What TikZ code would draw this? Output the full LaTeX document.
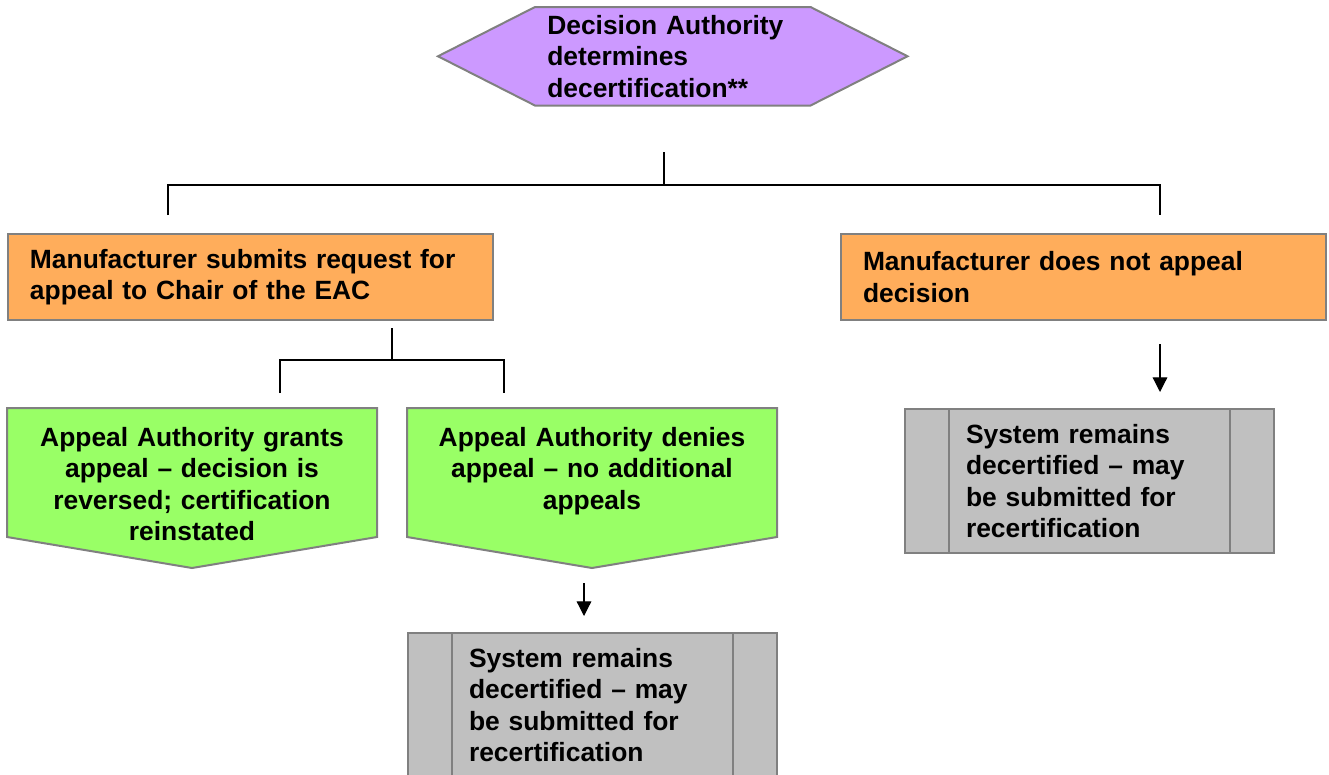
\documentclass[tikz,border=0pt]{standalone}
\usepackage{fontspec}
\setmainfont{Liberation Sans}
\usepackage{tikz}
\usetikzlibrary{arrows.meta,calc,backgrounds}

\tikzset{
  boxfont/.style={font=\fontsize{19.8}{23.6}\selectfont\bfseries},
  outline/.style={draw={rgb, 255:red, 128; green, 128; blue, 128 }, line width=1.5pt},
  orangebox/.style={boxfont, outline, fill={rgb, 255:red, 255; green, 173; blue, 91 }, anchor=north west, minimum width=363.75pt, minimum height=64.5pt, inner xsep=16.5pt, inner ysep=0pt, text width=330.75pt, align=left},
  graybox/.style={boxfont, outline, fill={rgb, 255:red, 192; green, 192; blue, 192 }, anchor=north west, minimum width=277pt, minimum height=108pt, inner xsep=45.75pt, inner ysep=0pt, text width=185.5pt, align=left},
  greentext/.style={boxfont, anchor=north, inner xsep=0pt, inner ysep=14.25pt, text width=262pt, align=center},
  greenfill/.style={outline, fill={rgb, 255:red, 153; green, 255; blue, 102 }},
  hextext/.style={boxfont, anchor=north west, minimum width=206.25pt, minimum height=73.5pt, inner xsep=9pt, inner ysep=0pt, text width=188.25pt, align=left},
  hexfill/.style={outline, fill={rgb, 255:red, 204; green, 153; blue, 255 }},
  treeline/.style={line width=1pt},
  flowarrow/.style={line width=0.9pt, -{Triangle[width=11pt,length=11pt]}}
}

\begin{document}
\begin{tikzpicture}[x=0.75pt,y=0.75pt,yscale=-1,xscale=1]
\path[use as bounding box] (0,0) rectangle (1329,775);

% Text Node
\node[hextext] (dec) at (535,7) {Decision Authority\\determines\\decertification**};
% Text Node
\node[orangebox] (mfrA) at (7,233) {Manufacturer submits request for\\appeal to Chair of the EAC};
% Text Node
\node[orangebox] (mfrB) at (840,233) {Manufacturer does not appeal\\decision};
% Text Node
\node[greentext] (grant) at (192,408) {Appeal Authority grants\\appeal -- decision is\\reversed; certification\\reinstated};
% Text Node
\node[greentext] (deny) at (592,408) {Appeal Authority denies\\appeal -- no additional\\appeals};
% Text Node
\node[graybox] (sysL) at (407,632) {System remains\\decertified -- may\\be submitted for\\recertification};
% Text Node
\node[graybox] (sysR) at (904,408) {System remains\\decertified -- may\\be submitted for\\recertification};

\begin{scope}[on background layer]
%Shape: Hexagon
\draw[hexfill] (dec.north west) -- (dec.north east) -- ($(dec.east)+(97,0)$) -- (dec.south east) -- (dec.south west) -- ($(dec.west)+(-97,0)$) -- cycle;
%Shape: Off-page pentagons
\foreach \n in {grant,deny}
  \draw[greenfill] ($(\n.north)+(-185,0)$) -- ($(\n.north)+(185,0)$) -- ($(\n.north)+(185,129)$) -- ($(\n.north)+(0,160)$) -- ($(\n.north)+(-185,129)$) -- cycle;
\end{scope}

%Straight Lines: side bars of the process boxes
\foreach \n in {sysL,sysR} {
  \draw[outline] ($(\n.north west)+(45,0)$) -- ($(\n.south west)+(45,0)$);
  \draw[outline] ($(\n.north east)+(-45,0)$) -- ($(\n.south east)+(-45,0)$);
}

\coordinate (decstub) at (664,152);
\coordinate (decfork) at (664,185);
\coordinate (mfrAdrop) at (168,215);
\coordinate (mfrBdrop) at (1160,215);
\coordinate (mfrAstub) at (392,328);
\coordinate (mfrAfork) at (392,360);
\coordinate (grantdrop) at (280,393);
\coordinate (denydrop) at (504,393);
\coordinate (denytail) at (584,583);
\coordinate (sysLhead) at (584,616);
\coordinate (mfrBtail) at (1160,344);
\coordinate (sysRhead) at (1160,392);

%Straight Lines
\draw[treeline] (decstub) -- (decfork);
\draw[treeline] (mfrAdrop) |- (decfork) -| (mfrBdrop);
\draw[treeline] (mfrAstub) -- (mfrAfork);
\draw[treeline] (grantdrop) |- (mfrAfork) -| (denydrop);
%Arrows
\draw[flowarrow] (denytail) -- (sysLhead);
\draw[flowarrow] (mfrBtail) -- (sysRhead);
\end{tikzpicture}
\end{document}
